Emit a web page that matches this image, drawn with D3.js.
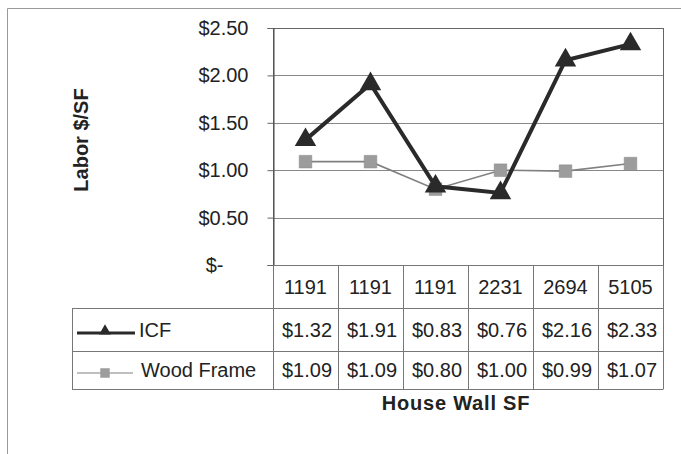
<!DOCTYPE html>
<html>
<head>
<meta charset="utf-8">
<script src="https://cdn.jsdelivr.net/npm/d3@7"></script>
<style>
  body { margin: 0; background: #fff; }
  text { font-family: Arial, "Liberation Sans", sans-serif; fill: #222; }
</style>
</head>
<body>
<div id="chart"></div>
<script>
// data
var houseWallSF = ["1191", "1191", "1191", "2231", "2694", "5105"];
var icf = [1.32, 1.91, 0.83, 0.76, 2.16, 2.33];
var woodFrame = [1.09, 1.09, 0.80, 1.00, 0.99, 1.07];
var yTicks = [0, 0.5, 1.0, 1.5, 2.0, 2.5];
var seriesNames = ["ICF", "Wood Frame"];

var W = 681, H = 454;
// plot area
var plotLeft = 273, plotRight = 663, plotTop = 28, plotBottom = 265;
var rowH = [43, 43, 38]; // data table rows
var legendLeft = 72;
var fontSize = "20px";

var svg = d3.select("#chart").append("svg")
    .attr("width", W)
    .attr("height", H);

svg.append("rect").attr("width", W).attr("height", H).attr("fill", "#fff");

// outer frame (only top & left visible in the scan)
svg.append("line").attr("x1", 7.5).attr("x2", W).attr("y1", 8.5).attr("y2", 8.5)
    .attr("stroke", "#999").attr("stroke-width", 1);
svg.append("line").attr("x1", 7.5).attr("x2", 7.5).attr("y1", 8.5).attr("y2", H)
    .attr("stroke", "#999").attr("stroke-width", 1);

var x = d3.scaleBand()
    .domain(d3.range(houseWallSF.length))
    .range([plotLeft, plotRight]);

var y = d3.scaleLinear()
    .domain([0, 2.5])
    .range([plotBottom, plotTop]);

// gridlines
svg.append("g")
  .selectAll("line")
  .data(yTicks.slice(1))
  .enter().append("line")
    .attr("x1", plotLeft).attr("x2", plotRight)
    .attr("y1", function(d) { return Math.round(y(d)) + 0.5; })
    .attr("y2", function(d) { return Math.round(y(d)) + 0.5; })
    .attr("stroke", "#888").attr("stroke-width", 1);

// plot frame
svg.append("rect")
    .attr("x", plotLeft + 0.5).attr("y", plotTop + 0.5)
    .attr("width", plotRight - plotLeft).attr("height", plotBottom - plotTop)
    .attr("fill", "none").attr("stroke", "#666").attr("stroke-width", 1);

// y axis
var fmt = function(d) { return d === 0 ? "$-" : "$" + d.toFixed(2); };
var yAxis = svg.append("g")
    .attr("transform", "translate(" + (plotLeft + 0.5) + ",0)")
    .call(d3.axisLeft(y).tickValues(yTicks).tickSize(6).tickPadding(19).tickFormat(fmt));
yAxis.select(".domain").attr("stroke", "#444");
yAxis.selectAll(".tick line").attr("stroke", "#666");
yAxis.selectAll(".tick text")
    .attr("font-size", fontSize)
    .attr("font-family", "Arial, 'Liberation Sans', sans-serif")
    .attr("fill", "#222")
    .attr("dx", function(d) { return d === 0 ? -25 : 0; });

// y axis title
svg.append("text")
    .attr("transform", "translate(88,140) rotate(-90)")
    .attr("text-anchor", "middle")
    .attr("font-size", fontSize)
    .attr("font-weight", "bold")
    .text("Labor $/SF");

// data table
var tableTop = plotBottom;
var rowTops = [tableTop, tableTop + rowH[0], tableTop + rowH[0] + rowH[1]];
var tableBottom = rowTops[2] + rowH[2];
var table = svg.append("g").attr("stroke", "#777").attr("stroke-width", 1).attr("fill", "none");

// column lines
table.selectAll(".col")
  .data(d3.range(houseWallSF.length + 1))
  .enter().append("line")
    .attr("x1", function(i) { return Math.round(plotLeft + i * x.bandwidth()) + 0.5; })
    .attr("x2", function(i) { return Math.round(plotLeft + i * x.bandwidth()) + 0.5; })
    .attr("y1", tableTop).attr("y2", tableBottom);
// row lines
table.append("line").attr("x1", plotLeft).attr("x2", plotRight + 0.5)
    .attr("y1", tableTop + 0.5).attr("y2", tableTop + 0.5);
[rowTops[1], rowTops[2], tableBottom].forEach(function(yy) {
  table.append("line").attr("x1", legendLeft).attr("x2", plotRight + 0.5)
      .attr("y1", yy + 0.5).attr("y2", yy + 0.5);
});
table.append("line").attr("x1", legendLeft + 0.5).attr("x2", legendLeft + 0.5)
    .attr("y1", rowTops[1]).attr("y2", tableBottom);

var rows = [
  houseWallSF,
  icf.map(function(v) { return "$" + v.toFixed(2); }),
  woodFrame.map(function(v) { return "$" + v.toFixed(2); })
];
rows.forEach(function(r, ri) {
  svg.append("g").selectAll("text")
    .data(r)
    .enter().append("text")
      .attr("x", function(d, i) { return x(i) + x.bandwidth() / 2 + (ri ? 1.5 : 0); })
      .attr("y", rowTops[ri] + rowH[ri] / 2 + 7)
      .attr("text-anchor", "middle")
      .attr("font-size", fontSize)
      .text(function(d) { return d; });
});

// series
var lineGen = d3.line()
    .x(function(d, i) { return x(i) + x.bandwidth() / 2; })
    .y(function(d) { return y(d); });

var tri = d3.symbol().type(d3.symbolTriangle).size(200);
var sq = d3.symbol().type(d3.symbolSquare).size(160);

svg.append("path").datum(woodFrame)
    .attr("d", lineGen)
    .attr("fill", "none").attr("stroke", "#808080").attr("stroke-width", 1.6);
svg.append("path").datum(icf)
    .attr("d", lineGen)
    .attr("fill", "none").attr("stroke", "#2a2a2a").attr("stroke-width", 4);

svg.append("g").selectAll("path")
  .data(woodFrame)
  .enter().append("path")
    .attr("d", sq)
    .attr("transform", function(d, i) { return "translate(" + (x(i) + x.bandwidth() / 2) + "," + y(d) + ")"; })
    .attr("fill", "#9c9c9c").attr("stroke", "#8a8a8a").attr("stroke-width", 0.5);

svg.append("g").selectAll("path")
  .data(icf)
  .enter().append("path")
    .attr("d", tri)
    .attr("transform", function(d, i) { return "translate(" + (x(i) + x.bandwidth() / 2) + "," + y(d) + ")"; })
    .attr("fill", "#2a2a2a");

// legend keys inside table
var keyMid = 105;
var icfY = rowTops[1] + rowH[1] / 2 + 3.5;
svg.append("line").attr("x1", 77).attr("x2", 135).attr("y1", icfY).attr("y2", icfY)
    .attr("stroke", "#2a2a2a").attr("stroke-width", 3);
svg.append("path").attr("d", d3.symbol().type(d3.symbolTriangle).size(60))
    .attr("transform", "translate(" + keyMid + "," + (icfY - 2) + ")").attr("fill", "#2a2a2a");
svg.append("text").attr("x", 139).attr("y", rowTops[1] + rowH[1] / 2 + 7)
    .attr("font-size", fontSize).text(seriesNames[0]);

var woodY = rowTops[2] + rowH[2] / 2 + 3;
svg.append("line").attr("x1", 77).attr("x2", 133).attr("y1", woodY).attr("y2", woodY)
    .attr("stroke", "#808080").attr("stroke-width", 1.2);
svg.append("path").attr("d", d3.symbol().type(d3.symbolSquare).size(90))
    .attr("transform", "translate(" + keyMid + "," + woodY + ")").attr("fill", "#9c9c9c");
svg.append("text").attr("x", 141).attr("y", rowTops[2] + rowH[2] / 2 + 7)
    .attr("font-size", fontSize).text(seriesNames[1]);

// x axis title
svg.append("text")
    .attr("x", 456).attr("y", 410)
    .attr("text-anchor", "middle")
    .attr("font-size", fontSize)
    .attr("font-weight", "bold")
    .attr("letter-spacing", "0.8px")
    .text("House Wall SF");
</script>
</body>
</html>
